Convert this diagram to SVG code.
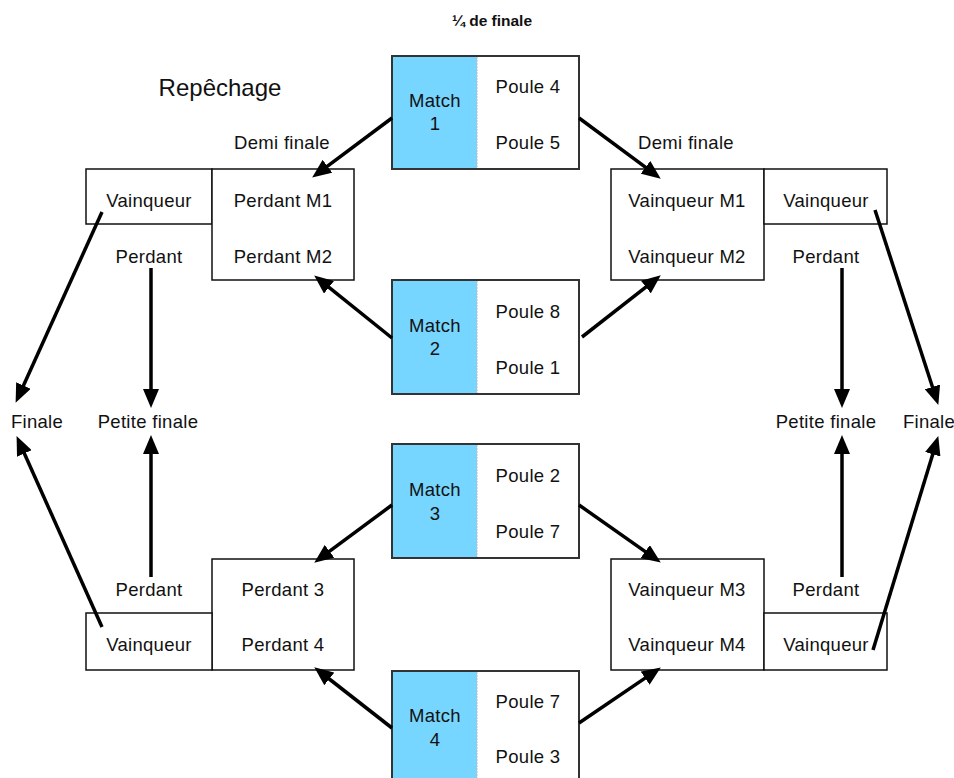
<svg xmlns="http://www.w3.org/2000/svg" width="954" height="778" viewBox="0 0 954 778">
<defs>
<style>
text{font-family:"Liberation Sans",Arial,sans-serif;font-size:18.5px;letter-spacing:0.3px;fill:#111;text-anchor:middle}
.title{font-weight:bold;font-size:15.5px;letter-spacing:0}
.rep{font-size:24px;letter-spacing:0}
.box{fill:#fff;stroke:#111;stroke-width:1.5}
.mb{fill:#fff;stroke:#333;stroke-width:2}
.blue{fill:#76d6ff}
.div{stroke:#bbb;stroke-width:1;stroke-dasharray:2 1}
.arr{stroke:#000;stroke-width:3.5;fill:none;marker-end:url(#ah)}
</style>
<marker id="ah" markerUnits="userSpaceOnUse" markerWidth="20" markerHeight="16" refX="4" refY="8" orient="auto" viewBox="0 0 20 16">
<path d="M0,0 L19,8 L0,16 Z" fill="#000"/>
</marker>
</defs>
<rect width="954" height="778" fill="#fff"/>
<text class="title" x="492" y="26">¼ de finale</text>
<text class="rep" x="220" y="96">Repêchage</text>
<text x="282" y="149">Demi finale</text>
<text x="686" y="149">Demi finale</text>

<g id="match1">
<rect class="mb" x="392" y="56" width="187" height="113"/>
<rect class="blue" x="393" y="57" width="84" height="111"/>
<line class="div" x1="477" y1="57" x2="477" y2="168"/>
<text x="435" y="107">Match</text><text x="435" y="130">1</text>
<text x="528" y="93">Poule 4</text><text x="528" y="149">Poule 5</text>
</g>
<g id="match2">
<rect class="mb" x="392" y="280" width="187" height="114"/>
<rect class="blue" x="393" y="281" width="84" height="112"/>
<line class="div" x1="477" y1="281" x2="477" y2="393"/>
<text x="435" y="332">Match</text><text x="435" y="355">2</text>
<text x="528" y="318">Poule 8</text><text x="528" y="374">Poule 1</text>
</g>
<g id="match3">
<rect class="mb" x="392" y="444" width="187" height="114"/>
<rect class="blue" x="393" y="445" width="84" height="112"/>
<line class="div" x1="477" y1="445" x2="477" y2="557"/>
<text x="435" y="496">Match</text><text x="435" y="520">3</text>
<text x="528" y="482">Poule 2</text><text x="528" y="538">Poule 7</text>
</g>
<g id="match4">
<rect class="mb" x="392" y="671" width="187" height="130"/>
<rect class="blue" x="393" y="672" width="84" height="128"/>
<line class="div" x1="477" y1="672" x2="477" y2="800"/>
<text x="435" y="722">Match</text><text x="435" y="746">4</text>
<text x="528" y="708">Poule 7</text><text x="528" y="763">Poule 3</text>
</g>

<g id="tl-vainqueur"><rect class="box" x="86" y="169" width="126" height="55"/><text x="149" y="207">Vainqueur</text></g>
<g id="tl-perdant"><rect class="box" x="212" y="169" width="142" height="111"/><text x="283" y="207">Perdant M1</text><text x="283" y="263">Perdant M2</text></g>
<g id="tl-perdant-label"><text x="149" y="263">Perdant</text></g>

<g id="tr-vainqueurM"><rect class="box" x="611" y="169" width="153" height="111"/><text x="687" y="207">Vainqueur M1</text><text x="687" y="263">Vainqueur M2</text></g>
<g id="tr-vainqueur"><rect class="box" x="764" y="169" width="123" height="55"/><text x="826" y="207">Vainqueur</text></g>
<g id="tr-perdant-label"><text x="826" y="263">Perdant</text></g>

<g id="bl-perdant"><rect class="box" x="212" y="559" width="142" height="111"/><text x="283" y="596">Perdant 3</text><text x="283" y="651">Perdant 4</text></g>
<g id="bl-vainqueur"><rect class="box" x="86" y="613" width="126" height="57"/><text x="149" y="651">Vainqueur</text></g>
<g id="bl-perdant-label"><text x="149" y="596">Perdant</text></g>

<g id="br-vainqueurM"><rect class="box" x="611" y="559" width="153" height="111"/><text x="687" y="596">Vainqueur M3</text><text x="687" y="651">Vainqueur M4</text></g>
<g id="br-vainqueur"><rect class="box" x="764" y="613" width="123" height="57"/><text x="826" y="651">Vainqueur</text></g>
<g id="br-perdant-label"><text x="826" y="596">Perdant</text></g>

<g id="finale-l"><text x="37" y="428">Finale</text></g>
<g id="petite-l"><text x="148" y="428">Petite finale</text></g>
<g id="petite-r"><text x="826" y="428">Petite finale</text></g>
<g id="finale-r"><text x="929" y="428">Finale</text></g>

<g id="connectors">
<line class="arr" x1="392" y1="118" x2="324.2" y2="168.6"/>
<line class="arr" x1="579" y1="118" x2="648.7" y2="169.7"/>
<line class="arr" x1="392" y1="338" x2="325.9" y2="284.8"/>
<line class="arr" x1="582" y1="337" x2="649" y2="284.6"/>
<line class="arr" x1="392" y1="505" x2="326.3" y2="553.7"/>
<line class="arr" x1="579" y1="505" x2="648.5" y2="553.9"/>
<line class="arr" x1="392" y1="728" x2="326.1" y2="676.5"/>
<line class="arr" x1="579" y1="723" x2="648.4" y2="675.9"/>
<line class="arr" x1="102" y1="212" x2="21.8" y2="389.2"/>
<line class="arr" x1="151" y1="268" x2="151" y2="393"/>
<line class="arr" x1="151" y1="577" x2="151" y2="450"/>
<line class="arr" x1="102" y1="627" x2="22.7" y2="449.8"/>
<line class="arr" x1="875" y1="210" x2="933.7" y2="390.7"/>
<line class="arr" x1="842" y1="268" x2="842" y2="393"/>
<line class="arr" x1="842" y1="577" x2="842" y2="450"/>
<line class="arr" x1="873" y1="650" x2="933.9" y2="450.4"/>
</g>
</svg>
